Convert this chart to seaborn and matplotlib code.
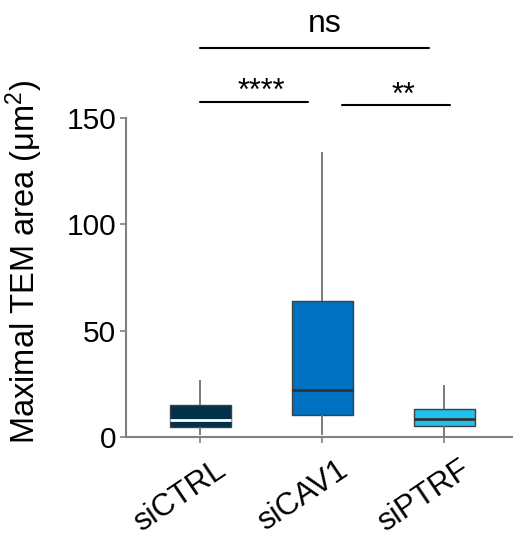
import matplotlib
matplotlib.use("Agg")
import matplotlib.pyplot as plt
import matplotlib.transforms as mtransforms
import pandas as pd
import seaborn as sns

# five-number values (min, Q1, median, Q3, max)
groups = ["siCTRL", "siCAV1", "siPTRF"]
ctrl_vals = [1.0, 4.8, 8.0, 15.0, 27.0]
cav1_vals = [1.0, 10.5, 22.0, 64.0, 134.0]
ptrf_vals = [0.0, 5.3, 8.5, 13.2, 24.5]
colors = ["#03304a", "#0070c0", "#22c0ee"]

# significance brackets: (x start, x end, height, label, label x)
brackets = [
    (0.0, 1.88, 183, "ns", 1.02),
    (0.0, 0.885, 157.5, "****", 0.5),
    (1.16, 2.05, 156, "**", 1.665),
]

df = pd.DataFrame({
    "group": [groups[0]] * 5 + [groups[1]] * 5 + [groups[2]] * 5,
    "value": ctrl_vals + cav1_vals + ptrf_vals,
})

sns.set_style("ticks")
plt.rcParams["font.family"] = ["Liberation Sans", "DejaVu Sans"]
plt.rcParams["mathtext.fontset"] = "custom"
plt.rcParams["mathtext.rm"] = "Liberation Sans"
plt.rcParams["mathtext.it"] = "Liberation Sans:italic"
plt.rcParams["text.color"] = "black"
plt.rcParams["xtick.labelcolor"] = "black"
plt.rcParams["ytick.labelcolor"] = "black"
plt.rcParams["axes.labelcolor"] = "black"

fig = plt.figure(figsize=(5.13, 5.37), dpi=100)
ax = fig.add_axes([0.2456, 0.1862, 0.7544, 0.594])

sns.boxplot(
    data=df, x="group", y="value", hue="group", order=groups,
    palette=dict(zip(groups, colors)), width=0.5, whis=(0, 100),
    saturation=1, showfliers=False, legend=False, ax=ax,
    boxprops=dict(edgecolor="#404040", linewidth=1.0),
    medianprops=dict(color="#333333", linewidth=2.0),
    whiskerprops=dict(color="#707070", linewidth=1.3),
    capprops=dict(linewidth=0),
)
# light median line on the dark box
ax.containers[0].medians[0].set_color("white")

ax.set_xlim(-0.607, 2.565)
ax.set_ylim(0, 150)
ax.set_yticks([0, 50, 100, 150])
ax.set_xlabel("")
ax.set_ylabel(r"Maximal TEM area (μm$^2$)", fontsize=23.5)
ax.yaxis.set_label_coords(-0.21, 0.55)
ax.tick_params(axis="y", labelsize=21.5, length=4, width=1.2, color="#808080", pad=3)
ax.tick_params(axis="x", labelsize=22.5, length=4, width=1.2, color="#808080", pad=9)
shift = mtransforms.ScaledTranslation(15 / 100, 0, fig.dpi_scale_trans)
for lab in ax.get_xticklabels():
    lab.set_rotation(34)
    lab.set_ha("right")
    lab.set_rotation_mode("anchor")
    lab.set_transform(lab.get_transform() + shift)

sns.despine(ax=ax)
for sp in ["left", "bottom"]:
    ax.spines[sp].set_color("#808080")
    ax.spines[sp].set_linewidth(1.5)

for x0, x1, h, lab, tx in brackets:
    ax.plot([x0, x1], [h, h], color="black", lw=1.5, clip_on=False)
    if lab == "ns":
        ax.text(tx, h + 4, lab, ha="center", va="bottom", fontsize=23)
    else:
        ax.text(tx, h - 2.5, lab, ha="center", va="bottom", fontsize=22)

fig.savefig("out.png", dpi=100)
